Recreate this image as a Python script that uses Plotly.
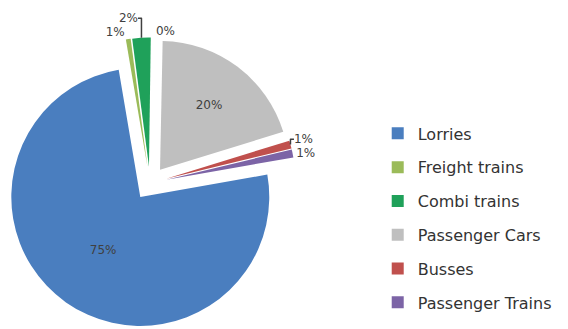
import plotly.graph_objects as go

# Share of transport modes (percent); the unnamed slice is a near-zero residual
categories = ["Lorries", "Freight trains", "Combi trains", "Other",
              "Passenger Cars", "Busses", "Passenger Trains"]
shares = [75.1, 0.6, 2.3, 0.1, 19.9, 1.0, 1.0]
colors = ["#4a7ebf", "#9bbb59", "#1fa15a", "#ffffff",
          "#bfbfbf", "#c0504d", "#7c64a6"]
legend_items = ["Lorries", "Freight trains", "Combi trains",
                "Passenger Cars", "Busses", "Passenger Trains"]
legend_colors = ["#4a7ebf", "#9bbb59", "#1fa15a", "#bfbfbf", "#c0504d", "#7c64a6"]

text_pos = ["inside" if v >= 10 else "outside" for v in shares]

fig = go.Figure()
fig.add_trace(go.Pie(
    labels=categories,
    values=shares,
    sort=False,
    direction="clockwise",
    rotation=80,
    pull=[0.13] * len(shares),
    marker=dict(colors=colors, line=dict(width=0)),
    texttemplate="%{percent:.0%}",
    textposition=text_pos,
    insidetextorientation="horizontal",
    textfont=dict(family="DejaVu Sans, sans-serif", size=12, color="#404040"),
    showlegend=False,
    domain=dict(x=[0.007, 0.521], y=[0.0, 0.886]),
    hoverinfo="label+percent",
))

# Legend entries for the named modes
for name, col in zip(legend_items, legend_colors):
    fig.add_trace(go.Scatter(
        x=[None], y=[None], mode="markers", name=name, legendgroup=name,
        marker=dict(symbol="square", size=12, color=col),
    ))

fig.update_layout(
    width=568, height=329,
    margin=dict(l=0, r=0, t=0, b=0, autoexpand=False),
    paper_bgcolor="white", plot_bgcolor="white",
    xaxis=dict(visible=False), yaxis=dict(visible=False),
    legend=dict(x=0.665, y=0.646, xanchor="left", yanchor="top",
                font=dict(family="DejaVu Sans, sans-serif", size=16, color="#333333"),
                tracegroupgap=10, itemclick=False),
)

fig.write_html("out.html")
